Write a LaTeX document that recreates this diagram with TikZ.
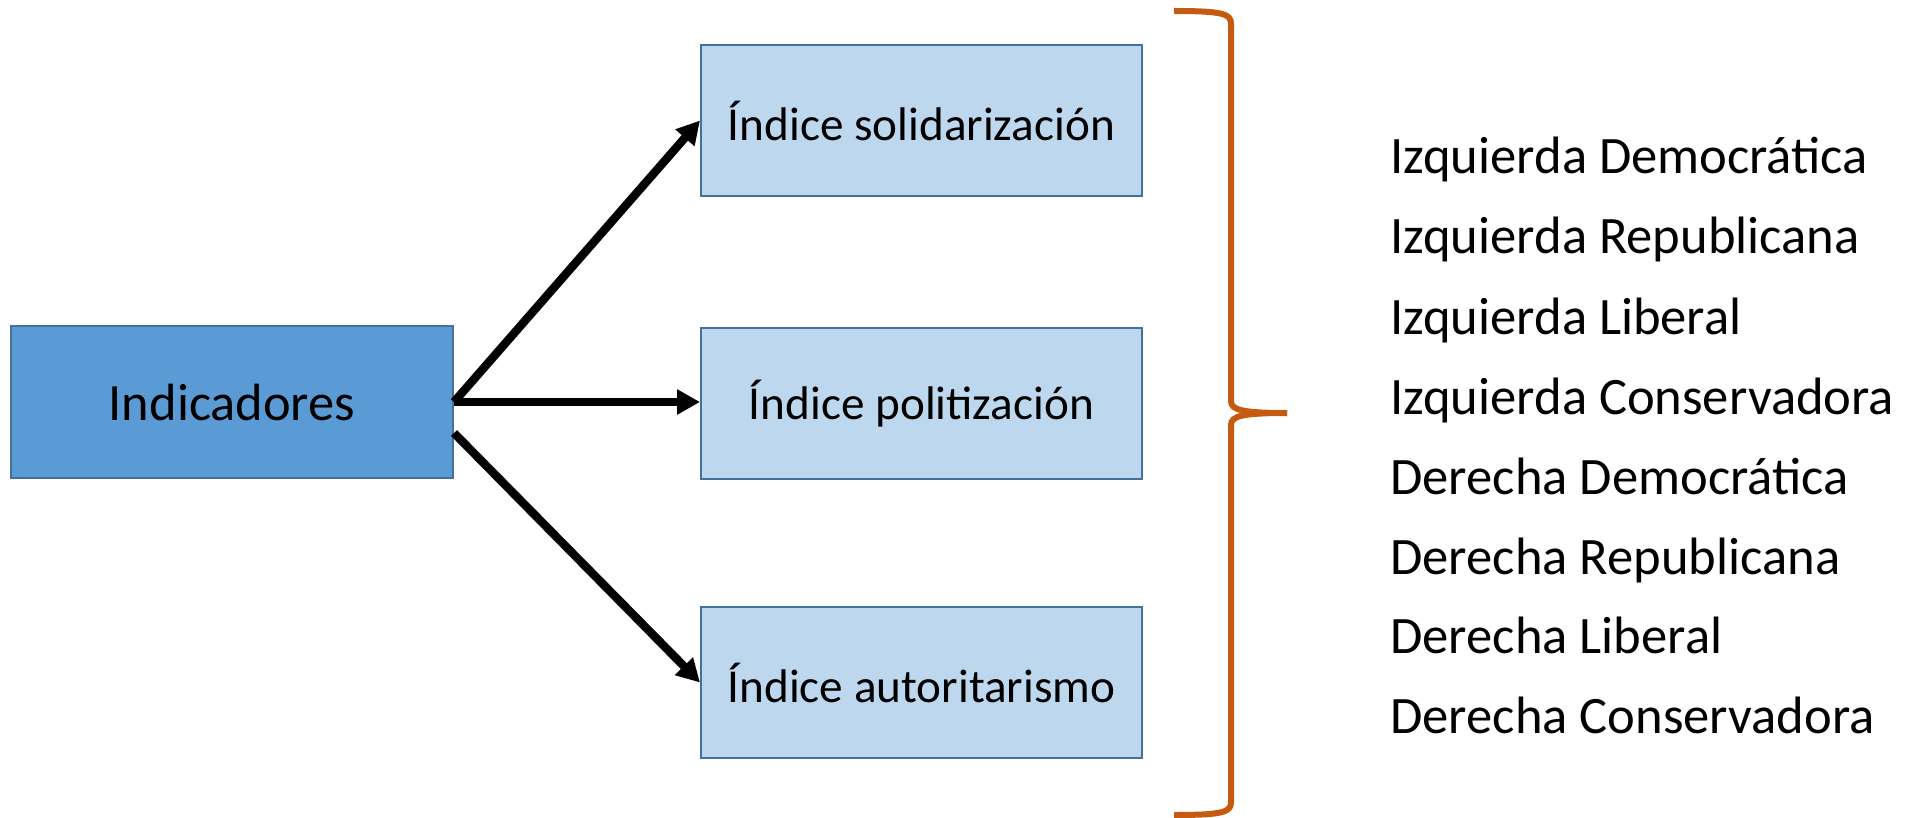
\documentclass[tikz,border=0pt]{standalone}
\usepackage{fontspec}
\setmainfont{Carlito}
\usetikzlibrary{arrows.meta}
\definecolor{darkfill}{HTML}{5B9BD5}
\definecolor{lightfill}{HTML}{BDD7EE}
\definecolor{boxline}{HTML}{41719C}
\definecolor{bracecol}{HTML}{C55A11}
\begin{document}
\begin{tikzpicture}[x=0.5pt,y=-0.5pt,
  mainbox/.style={draw=boxline, line width=1pt, fill=darkfill, minimum width=221pt, minimum height=76pt, inner sep=0pt, font=\fontsize{26.2}{30}\selectfont},
  subbox/.style={draw=boxline, line width=1pt, fill=lightfill, minimum width=220.5pt, minimum height=75.5pt, inner sep=0pt, font=\fontsize{23.6}{28}\selectfont},
  listtext/.style={anchor=base west, inner sep=0pt, font=\fontsize{26.3}{30}\selectfont},
  arr/.style={line width=4.2pt, -{Triangle[length=11.5pt,width=12pt]}},
  bracestyle/.style={draw=bracecol, line width=3pt}]
\useasboundingbox (0,0) rectangle (1905,818);
\node[mainbox] (ind) at (232,402) {Indicadores};
\node[subbox] (b1) at (921.5,120.5) {Índice solidarización};
\node[subbox] (b2) at (921.5,403.5) {Índice politización};
\node[subbox] (b3) at (921.5,682.5) {Índice autoritarismo};
\draw[arr] (ind.east) -- (b1.west);
\draw[arr] (ind.east) -- (ind.east -| b2.west);
\draw[arr] ([yshift=-15.5pt]ind.east) -- (b3.west);
\coordinate (btop) at (1174,11);
\coordinate (bmid) at (1287,413);
\coordinate (bbot) at (1174,815);
\draw[bracestyle] (btop) .. controls (1224,11) and (1231,14) .. (1231,24)
  -- (1231,401) .. controls (1231,410) and (1242,413) .. (bmid);
\draw[bracestyle] (bmid) .. controls (1242,413) and (1231,416) .. (1231,425)
  -- (1231,802) .. controls (1231,812) and (1224,815) .. (bbot);
\node[listtext] (l1) at (1390,174) {Izquierda Democrática};
\node[listtext] (l2) at (1390,254) {Izquierda Republicana};
\node[listtext] (l3) at (1390,334) {Izquierda Liberal};
\node[listtext] (l4) at (1390,414) {Izquierda Conservadora};
\node[listtext] (l5) at (1390,494) {Derecha Democrática};
\node[listtext] (l6) at (1390,574) {Derecha Republicana};
\node[listtext] (l7) at (1390,653) {Derecha Liberal};
\node[listtext] (l8) at (1390,733) {Derecha Conservadora};
\end{tikzpicture}
\end{document}
